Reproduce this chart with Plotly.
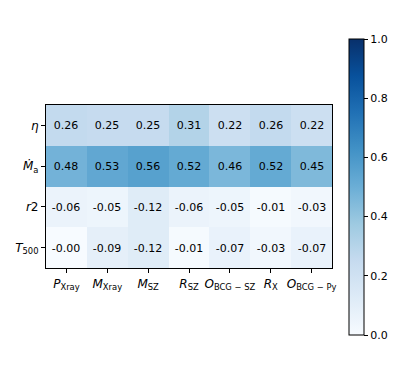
import plotly.graph_objects as go
import numpy as np

x_labels = ["<i>P</i><sub>Xray</sub>", "<i>M</i><sub>Xray</sub>", "<i>M</i><sub>SZ</sub>",
            "<i>R</i><sub>SZ</sub>", "<i>O</i><sub>BCG − SZ</sub>", "<i>R</i><sub>X</sub>",
            "<i>O</i><sub>BCG − Py</sub>"]
y_labels = ["<i>η</i>", "<i>Ṁ</i><sub>a</sub>", "<i>r</i>2", "<i>T</i><sub>500</sub>"]

row_eta = [0.26, 0.25, 0.25, 0.31, 0.22, 0.26, 0.22]
row_mdot = [0.48, 0.53, 0.56, 0.52, 0.46, 0.52, 0.45]
row_r2 = [-0.06, -0.05, -0.12, -0.06, -0.05, -0.01, -0.03]
row_t500 = [-0.00, -0.09, -0.12, -0.01, -0.07, -0.03, -0.07]

vals = np.array([row_eta, row_mdot, row_r2, row_t500])
text = [[f"{v:.2f}" if not (abs(v) < 0.005) else "-0.00" for v in r] for r in vals]

# page body has an 8px margin; shift everything accordingly
W, H = 399, 358
L, R, T, B = 38, 324, 97, 260
CB_X, CB_TOP, CB_BOT = 341, 31, 327

fig = go.Figure(go.Heatmap(
    z=np.abs(vals), x=list(range(7)), y=list(range(4)),
    text=text, texttemplate="%{text}",
    textfont=dict(family="DejaVu Sans", size=11, color="black"),
    colorscale="Blues", zmin=0, zmax=1,
    colorbar=dict(
        x=(CB_X - L) / (R - L), xanchor="left", thickness=15, xpad=0, ypad=0,
        lenmode="pixels", len=CB_BOT - CB_TOP, y=(B - (CB_TOP + CB_BOT) / 2) / (B - T), yanchor="middle",
        outlinecolor="black", outlinewidth=1,
        tickvals=[0, 0.2, 0.4, 0.6, 0.8, 1.0], ticktext=["0.0", "0.2", "0.4", "0.6", "0.8", "1.0"],
        ticks="outside", ticklen=4, tickcolor="black",
        tickfont=dict(family="DejaVu Sans", size=11, color="black"),
    ),
    hoverinfo="skip",
))

fig.update_xaxes(tickvals=list(range(7)), ticktext=x_labels, range=[-0.5, 6.5],
                 ticks="outside", ticklen=4, tickcolor="black", showline=True, linecolor="black",
                 linewidth=1.2, mirror=True, showgrid=False, zeroline=False,
                 tickfont=dict(family="DejaVu Sans", size=12, color="black"))
fig.update_yaxes(tickvals=list(range(4)), ticktext=y_labels, range=[3.5, -0.5],
                 ticks="outside", ticklen=4, tickcolor="black", showline=True, linecolor="black",
                 linewidth=1.2, mirror=True, showgrid=False, zeroline=False,
                 tickfont=dict(family="DejaVu Sans", size=12, color="black"))

fig.update_layout(width=W, height=H, margin=dict(l=L, r=W - R, t=T, b=H - B, autoexpand=False),
                  paper_bgcolor="white", plot_bgcolor="white", font=dict(family="DejaVu Sans"))
fig.write_html("out.html")
